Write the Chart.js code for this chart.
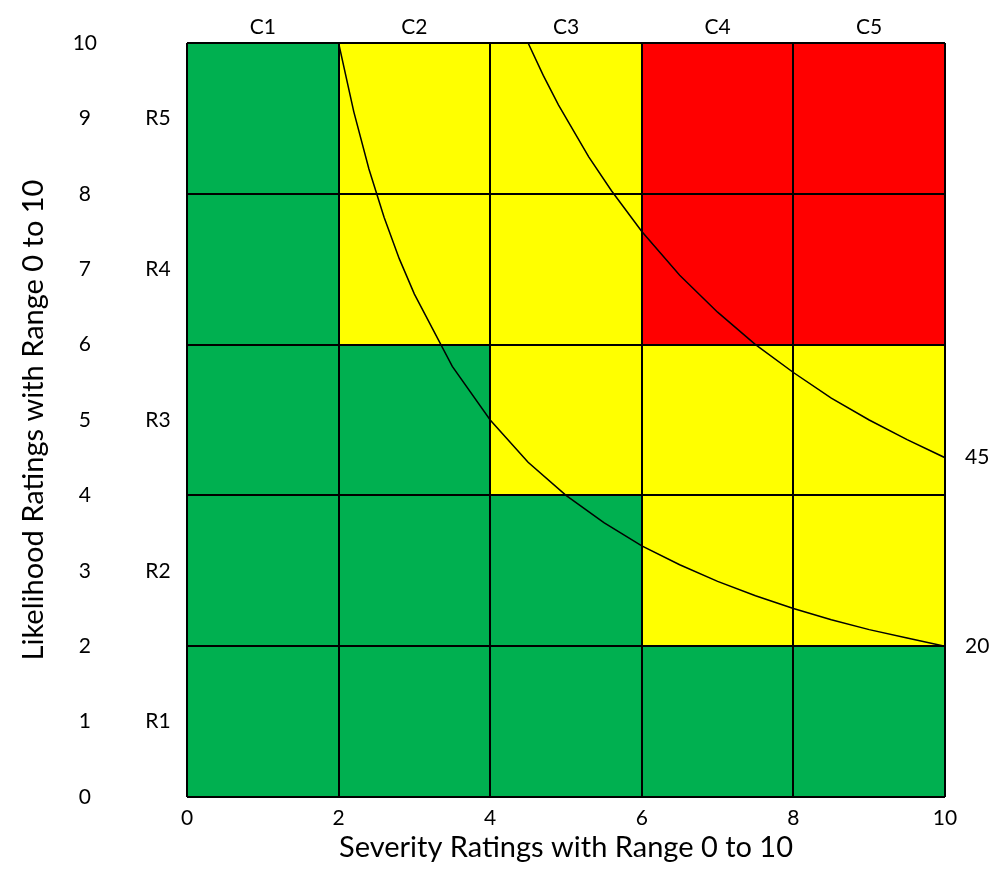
<!DOCTYPE html>
<html>
<head>
<meta charset="utf-8">
<script src="https://cdn.jsdelivr.net/npm/chart.js@4.4.0/dist/chart.umd.min.js"></script>
<style>
  html, body { margin: 0; padding: 0; background: #fff; }
  #wrap { width: 989px; height: 889px; }
</style>
</head>
<body>
<div id="wrap"><canvas id="chart" width="989" height="889"></canvas></div>
<script>
// matrix bands: 5 columns (severity) x 5 rows (likelihood)
const colLabels = ['C1', 'C2', 'C3', 'C4', 'C5'];
const rowLabels = ['R1', 'R2', 'R3', 'R4', 'R5'];
const bandEdges = [0, 2, 4, 6, 8, 10];

// risk level per row, R1 (bottom) to R5 (top), columns C1..C5
const riskRows = [
  ['low', 'low', 'low', 'low', 'low'],
  ['low', 'low', 'low', 'med', 'med'],
  ['low', 'low', 'med', 'med', 'med'],
  ['low', 'med', 'med', 'high', 'high'],
  ['low', 'med', 'med', 'high', 'high']
];

// iso-risk curves (severity x likelihood = const)
const curve20X = [2, 2.2, 2.4, 2.6, 2.8, 3, 3.5, 4, 4.5, 5, 5.5, 6, 6.5, 7, 7.5, 8, 8.5, 9, 9.5, 10];
const curve20Y = [10, 9.09, 8.33, 7.69, 7.14, 6.67, 5.71, 5, 4.44, 4, 3.64, 3.33, 3.08, 2.86, 2.67, 2.5, 2.35, 2.22, 2.11, 2];
const curve45X = [4.5, 4.7, 4.9, 5.3, 5.6, 6, 6.5, 7, 7.5, 8, 8.5, 9, 9.5, 10];
const curve45Y = [10, 9.57, 9.18, 8.49, 8.04, 7.5, 6.92, 6.43, 6, 5.63, 5.29, 5, 4.74, 4.5];
const curveLabels = ['20', '45'];

const riskColors = { low: '#00B050', med: '#FFFF00', high: '#FF0000' };

Chart.defaults.font.family = 'Lato';
Chart.defaults.color = '#000';

function toPoints(xs, ys) {
  return xs.map((x, i) => ({ x: x, y: ys[i] }));
}

const matrixPlugin = {
  id: 'matrix',
  beforeDraw(chart) {
    const { ctx, scales: { x, y } } = chart;
    ctx.save();
    riskRows.forEach((row, r) => {
      row.forEach((level, c) => {
        const x0 = x.getPixelForValue(bandEdges[c]);
        const x1 = x.getPixelForValue(bandEdges[c + 1]);
        const y0 = y.getPixelForValue(bandEdges[r + 1]);
        const y1 = y.getPixelForValue(bandEdges[r]);
        ctx.fillStyle = riskColors[level];
        ctx.fillRect(x0, y0, x1 - x0, y1 - y0);
      });
    });
    ctx.restore();
  },
  afterDraw(chart) {
    const { ctx, scales: { x, y } } = chart;
    ctx.save();
    ctx.fillStyle = '#000';
    ctx.font = '21px Lato';
    ctx.textBaseline = 'middle';

    // column labels above the plot
    ctx.textAlign = 'center';
    colLabels.forEach((lab, c) => {
      const cx = x.getPixelForValue((bandEdges[c] + bandEdges[c + 1]) / 2);
      ctx.fillText(lab, cx, y.top - 16);
    });
    // row labels between tick labels and plot
    rowLabels.forEach((lab, r) => {
      const cy = y.getPixelForValue((bandEdges[r] + bandEdges[r + 1]) / 2);
      ctx.fillText(lab, x.left - 29, cy);
    });

    // curve value labels at the right end
    ctx.textAlign = 'left';
    const ends = [[curve20X, curve20Y], [curve45X, curve45Y]];
    ends.forEach((c, i) => {
      const n = c[0].length - 1;
      ctx.fillText(curveLabels[i], x.getPixelForValue(c[0][n]) + 20, y.getPixelForValue(c[1][n]));
    });
    ctx.restore();
  }
};

const lineStyle = {
  showLine: true,
  borderColor: '#000',
  borderWidth: 1.5,
  pointRadius: 0,
  fill: false,
  tension: 0
};

new Chart(document.getElementById('chart'), {
  type: 'scatter',
  data: {
    datasets: [
      Object.assign({ label: curveLabels[0], data: toPoints(curve20X, curve20Y) }, lineStyle),
      Object.assign({ label: curveLabels[1], data: toPoints(curve45X, curve45Y) }, lineStyle)
    ]
  },
  options: {
    responsive: false,
    animation: false,
    layout: { padding: { top: 43, right: 44, left: 0, bottom: 0 } },
    plugins: {
      legend: { display: false },
      tooltip: { enabled: false }
    },
    scales: {
      x: {
        type: 'linear',
        min: 0,
        max: 10,
        ticks: { stepSize: 2, padding: 9, font: { size: 21 } },
        grid: { color: '#000', lineWidth: 2, drawTicks: false },
        border: { display: false },
        title: {
          display: true,
          text: 'Severity Ratings with Range 0 to 10',
          font: { size: 29 },
          padding: { top: 0, bottom: 24 }
        },
        afterFit: (scale) => {
          scale.height = 92;
          scale.paddingLeft = 0;
          scale.paddingRight = 0;
        }
      },
      y: {
        type: 'linear',
        min: 0,
        max: 10,
        ticks: { stepSize: 1, padding: 90, crossAlign: 'center', font: { size: 21 } },
        grid: {
          color: (ctx) => (ctx.tick && ctx.tick.value % 2 === 0 ? '#000' : 'rgba(0,0,0,0)'),
          lineWidth: 2,
          drawTicks: false
        },
        border: { display: false },
        title: {
          display: true,
          text: 'Likelihood Ratings with Range 0 to 10',
          font: { size: 29 },
          padding: { top: 16, bottom: 0 }
        },
        afterFit: (scale) => {
          scale.width = 187;
          scale.paddingTop = 0;
          scale.paddingBottom = 0;
        }
      }
    }
  },
  plugins: [matrixPlugin]
});
</script>
</body>
</html>
